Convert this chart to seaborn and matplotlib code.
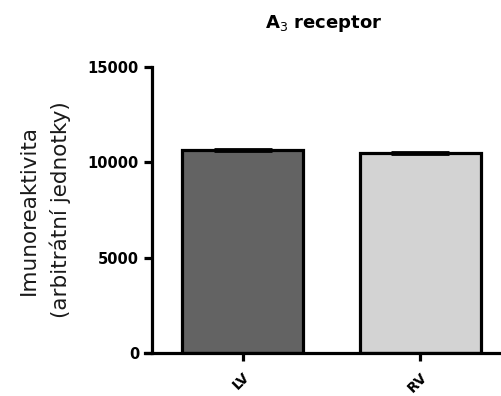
import matplotlib
matplotlib.use("Agg")
import matplotlib.pyplot as plt
import seaborn as sns
import pandas as pd

groups = ["LV", "RV"]
means = [10650, 10480]
sems = [60, 45]
bar_colors = ["#636363", "#d3d3d3"]
y_ticks = [0, 5000, 10000, 15000]

df = pd.DataFrame({"group": groups, "value": means})

sns.set_style("ticks")
plt.rcParams["font.family"] = ["DejaVu Sans"]
plt.rcParams["axes.edgecolor"] = "black"
plt.rcParams["text.color"] = "black"
plt.rcParams["xtick.color"] = "black"
plt.rcParams["ytick.color"] = "black"

fig = plt.figure(figsize=(5.02, 3.96), dpi=100)
ax = fig.add_axes([0.289, 0.1086, 0.711, 0.7222])

sns.barplot(data=df, x="group", y="value", hue="group", palette=bar_colors,
            edgecolor="black", linewidth=2.3, width=0.68, errorbar=None,
            legend=False, ax=ax)
ax.errorbar(range(len(groups)), means, yerr=sems, fmt="none", ecolor="black",
            elinewidth=2, capsize=21, capthick=2, zorder=1)

ax.set_ylim(0, 15000)
ax.set_xlim(-0.55, 1.46)
ax.set_yticks(y_ticks)
ax.set_yticklabels([str(t) for t in y_ticks])
ax.set_xticks(range(len(groups)))
ax.set_xticklabels(groups, rotation=45, ha="right", rotation_mode="anchor")
ax.tick_params(axis="both", width=2.3, length=6, color="black",
               labelcolor="black", labelsize=10.5)
ax.tick_params(axis="x", labelsize=10, pad=6)

sns.despine(ax=ax)
ax.spines["left"].set_linewidth(2.3)
ax.spines["bottom"].set_linewidth(2.3)
ax.spines["left"].set_position(("axes", 0.02))

ax.set_xlabel("")
ax.set_ylabel("Imunoreaktivita\n(arbitrátní jednotky)", fontsize=15.5,
              color="#1a1a1a", labelpad=12, linespacing=1.6)
ax.set_title("A$_3$ receptor", fontweight="bold", fontsize=13, pad=28)

# tick labels get rebuilt at draw time, so set the weight after a draw
fig.canvas.draw()
for lab in ax.get_yticklabels() + ax.get_xticklabels():
    lab.set_fontweight("bold")

fig.savefig("out.png", dpi=100)
